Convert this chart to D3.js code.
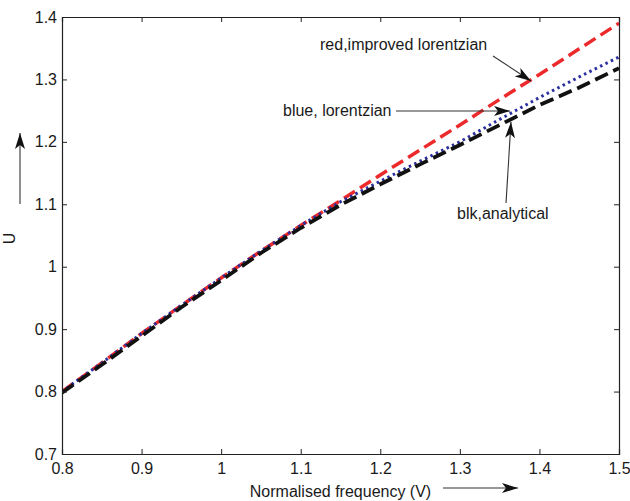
<!DOCTYPE html>
<html>
<head>
<meta charset="utf-8">
<script src="https://cdn.jsdelivr.net/npm/d3@7"></script>
<style>
  html, body { margin: 0; padding: 0; background: #fff; }
  svg { display: block; }
  text { font-family: "Liberation Sans", Arial, Helvetica, sans-serif; fill: #1a1a1a; }
</style>
</head>
<body>
<svg id="chart" width="630" height="501"></svg>
<script>
// ---- data ----
const freq = [0.80, 0.85, 0.90, 0.95, 1.00, 1.05, 1.10, 1.15, 1.20, 1.25, 1.30, 1.35, 1.40, 1.45, 1.50];
const redImproved = [0.800, 0.846, 0.893, 0.938, 0.982, 1.025, 1.066, 1.106, 1.147, 1.187, 1.227, 1.268, 1.308, 1.349, 1.390];
const blueLorentzian = [0.800, 0.846, 0.893, 0.938, 0.982, 1.025, 1.066, 1.104, 1.137, 1.169, 1.200, 1.236, 1.271, 1.304, 1.336];
const blkAnalytical = [0.798, 0.843, 0.889, 0.935, 0.978, 1.022, 1.062, 1.099, 1.132, 1.164, 1.195, 1.227, 1.259, 1.287, 1.318];
const xTicks = [0.8, 0.9, 1.0, 1.1, 1.2, 1.3, 1.4, 1.5];
const yTicks = [0.7, 0.8, 0.9, 1.0, 1.1, 1.2, 1.3, 1.4];
const xLabel = "Normalised frequency (V)";
const yLabel = "U";
const notes = [
  { text: "red,improved lorentzian" },
  { text: "blue, lorentzian" },
  { text: "blk,analytical" }
];

// ---- layout ----
const svg = d3.select("#chart");
const L = 62, R = 619, T = 17, B = 454;
const x = d3.scaleLinear().domain([0.8, 1.5]).range([L, R]);
const y = d3.scaleLinear().domain([0.7, 1.4]).range([B, T]);
const fmt = d => (Math.abs(d - 1) < 1e-9 ? "1" : d3.format(".1f")(d));

const defs = svg.append("defs");
defs.append("marker").attr("id", "ah")
  .attr("viewBox", "0 0 16 10").attr("refX", 16).attr("refY", 5)
  .attr("markerWidth", 16).attr("markerHeight", 10).attr("markerUnits", "userSpaceOnUse")
  .attr("orient", "auto")
  .append("path").attr("d", "M0,0 L16,5 L0,10 L4,5 Z").attr("fill", "#111");
defs.append("clipPath").attr("id", "clip").append("rect")
  .attr("x", L).attr("y", T).attr("width", R - L).attr("height", B - T);

// lines
const line = vals => d3.line().x((d, i) => x(freq[i])).y(d => y(d))(vals);
const g = svg.append("g").attr("clip-path", "url(#clip)");
g.append("path").attr("d", line(redImproved)).attr("fill", "none")
  .attr("stroke", "#ec2a2c").attr("stroke-width", 3.5).attr("stroke-dasharray", "13,6");
g.append("path").attr("d", line(blueLorentzian)).attr("fill", "none")
  .attr("stroke", "#2a2e9e").attr("stroke-width", 3).attr("stroke-dasharray", "2.5,3.5");
g.append("path").attr("d", line(blkAnalytical)).attr("fill", "none")
  .attr("stroke", "#111").attr("stroke-width", 3.8).attr("stroke-dasharray", "14,6");

// axes (MATLAB-style box with inward ticks)
const axB = d3.axisBottom(x).tickValues(xTicks).tickSize(-5).tickPadding(9).tickFormat(fmt);
const axL = d3.axisLeft(y).tickValues(yTicks).tickSize(-5).tickPadding(5).tickFormat(fmt);
const axT = d3.axisTop(x).tickValues(xTicks).tickSize(-5).tickFormat("");
const axR = d3.axisRight(y).tickValues(yTicks).tickSize(-5).tickFormat("");
[[axB, `translate(0,${B})`], [axL, `translate(${L},0)`], [axT, `translate(0,${T})`], [axR, `translate(${R},0)`]]
  .forEach(([ax, tr]) => {
    const a = svg.append("g").attr("transform", tr).call(ax);
    a.select(".domain").attr("stroke", "#222").attr("stroke-width", 1.2);
    a.selectAll(".tick line").attr("stroke", "#222");
    a.selectAll("text").style("font-size", "16px").attr("fill", "#1a1a1a")
      .style("font-family", '"Liberation Sans", Arial, sans-serif');
  });

// axis titles
svg.append("text").attr("x", (L + R) / 2).attr("y", 497).attr("text-anchor", "middle")
  .style("font-size", "16px").text(xLabel);
svg.append("text").attr("transform", `translate(15,${(T + B) / 2 + 3}) rotate(-90)`)
  .attr("text-anchor", "middle").style("font-size", "16px").text(yLabel);

// axis arrows
const arrow = (x1, y1, x2, y2) => svg.append("line")
  .attr("x1", x1).attr("y1", y1).attr("x2", x2).attr("y2", y2)
  .attr("stroke", "#333").attr("stroke-width", 1.1).attr("marker-end", "url(#ah)");
arrow(443, 488, 518, 488);
arrow(20, 204, 20, 133);

// annotations
svg.append("text").attr("x", 320).attr("y", 50).style("font-size", "16px").text(notes[0].text);
arrow(493, 56, 531, 81);
svg.append("text").attr("x", 283).attr("y", 116).style("font-size", "16px").text(notes[1].text);
arrow(396, 111, 510, 111);
svg.append("text").attr("x", 457).attr("y", 219).style("font-size", "16px").text(notes[2].text);
arrow(506, 203, 511, 122);
</script>
</body>
</html>
